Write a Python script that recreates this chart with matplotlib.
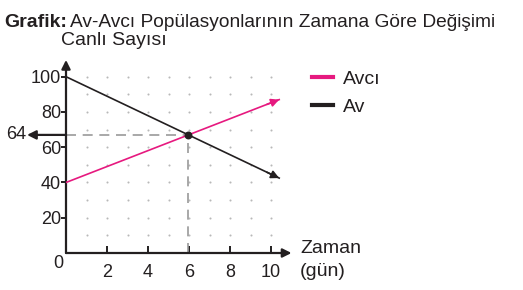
import matplotlib
matplotlib.use("Agg")
import matplotlib.pyplot as plt
import numpy as np

plt.rcParams["font.family"] = ["Liberation Sans", "DejaVu Sans"]

# values
zaman = [0, 10.4]
avci = [40, 87]
av = [100, 42.5]
x_ticks = [2, 4, 6, 8, 10]
y_ticks = [20, 40, 60, 80, 100]
kesisim_label = "64"

W, H = 523, 290
PINK = "#e6197f"
DARK = "#231f20"
DOT = "#b8b8b8"

fig = plt.figure(figsize=(W / 100, H / 100), dpi=100)

# axes placed in pixel units: x=0 at 66px, y=0 at 253px from top
x_unit, y_unit = 20.5, 1.763
xmax, ymax = 11.2, 110
left, bottom = 66, 253
ax = fig.add_axes([left / W, 1 - bottom / H, xmax * x_unit / W, ymax * y_unit / H])
ax.set_xlim(0, xmax)
ax.set_ylim(0, ymax)
for s in ax.spines.values():
    s.set_visible(False)

# dotted background grid
gx, gy = np.meshgrid(np.arange(1, 11), np.arange(10, 101, 10))
ax.scatter(gx.ravel(), gy.ravel(), s=2.2, color=DOT, linewidths=0, zorder=1)

# axes with arrows
arrow = dict(arrowstyle="-|>", color=DARK, lw=1.6, mutation_scale=13, shrinkA=0, shrinkB=0)
ax.annotate("", xy=(11.0, 0), xytext=(0, 0), arrowprops=arrow, annotation_clip=False)
ax.annotate("", xy=(0, 109.5), xytext=(0, 0), arrowprops=arrow, annotation_clip=False)

ax.set_xticks(x_ticks)
ax.set_yticks(y_ticks)
ax.tick_params(axis="x", direction="in", length=5, width=1.4, color=DARK,
               labelsize=13, labelcolor=DARK, pad=8)
ax.tick_params(axis="y", direction="out", length=3.5, width=1.4, color=DARK,
               labelsize=13, labelcolor=DARK, pad=0)
ax.text(-0.15, -6, "0", fontsize=13, color=DARK, ha="right", va="center")

# population lines
ax.plot(zaman, avci, color=PINK, lw=1.2, label="Avcı", zorder=3)
ax.plot(zaman, av, color=DARK, lw=1.2, label="Av", zorder=3)
for ys, c in [(avci, PINK), (av, DARK)]:
    ax.annotate("", xy=(zaman[1], ys[1]), xytext=(zaman[1] - 0.6, ys[1] - (ys[1] - ys[0]) * 0.6 / zaman[1]),
                arrowprops=dict(arrowstyle="-|>", color=c, lw=1.2, mutation_scale=12, shrinkA=0, shrinkB=0),
                annotation_clip=False)

# intersection
s1 = (avci[1] - avci[0]) / (zaman[1] - zaman[0])
s2 = (av[1] - av[0]) / (zaman[1] - zaman[0])
xi = (av[0] - avci[0]) / (s1 - s2)
yi = avci[0] + s1 * xi
ax.plot([0, xi], [yi, yi], color="#9a9a9a", lw=1.2, dashes=(6, 4), zorder=2)
ax.plot([xi, xi], [0, yi], color="#9a9a9a", lw=1.2, dashes=(6, 4), zorder=2)
ax.scatter([xi], [yi], s=22, color=DARK, zorder=4)
ax.annotate("", xy=(-1.9, yi), xytext=(0, yi), arrowprops=arrow, annotation_clip=False)
ax.text(-1.95, yi, kesisim_label, fontsize=13, color=DARK, ha="right", va="center")

ax.legend(loc="upper left", bbox_to_anchor=(312 / W, 1 - 70 / H), bbox_transform=fig.transFigure,
          frameon=False, fontsize=14, handlelength=1.1, handletextpad=0.5, labelspacing=0.55,
          borderaxespad=0, borderpad=0)
for line in ax.get_legend().get_lines():
    line.set_linewidth(3)
for t in ax.get_legend().get_texts():
    t.set_color(DARK)

# titles and axis names
fig.text(4 / W, 1 - 27 / H, "Grafik:", fontsize=14, fontweight="bold", color=DARK, va="baseline")
fig.text(70 / W, 1 - 27 / H, "Av-Avcı Popülasyonlarının Zamana Göre Değişimi", fontsize=13.8,
         color=DARK, va="baseline")
fig.text(61 / W, 1 - 45 / H, "Canlı Sayısı", fontsize=14, color=DARK, va="baseline")
fig.text(300 / W, 1 - 253 / H, "Zaman", fontsize=14, color=DARK, va="baseline")
fig.text(300 / W, 1 - 276 / H, "(gün)", fontsize=14, color=DARK, va="baseline")

fig.savefig("out.png", dpi=100)
